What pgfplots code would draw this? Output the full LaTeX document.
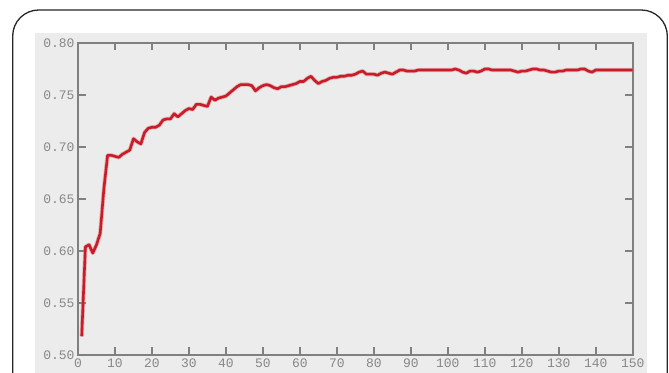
\documentclass[border=0pt]{standalone}
\usepackage{pgfplots}
\pgfplotsset{compat=1.18}
\usepackage{fontspec}
\newfontfamily\tickfont{Liberation Mono}
\definecolor{panelgray}{RGB}{235,236,235}
\definecolor{axgray}{RGB}{128,128,128}
\definecolor{lblgray}{RGB}{135,135,135}
\definecolor{linered}{RGB}{200,28,40}
\begin{document}
\begin{tikzpicture}[x=1pt,y=1pt]
\useasboundingbox (0,0) rectangle (669,372);
\clip (0,0) rectangle (669,372);
\fill[white] (0,0) rectangle (669,372);
\draw[line width=1.3pt, draw=black!85, rounded corners=26pt] (12.7,-40) rectangle (667.3,362);
\fill[panelgray] (35,-10) rectangle (647,338.7);
\begin{axis}[
  at={(78pt,17pt)}, anchor=south west,
  width=554.7pt, height=312pt, scale only axis,
  xmin=0, xmax=150, ymin=0.5, ymax=0.8,
  axis background/.style={fill=panelgray},
  axis line style={draw=axgray, line width=2pt},
  every tick/.style={draw=axgray, line width=2pt},
  major tick length=7.5pt,
  tick align=inside,
  xtick={0,10,20,30,40,50,60,70,80,90,100,110,120,130,140,150},
  ytick={0.5,0.55,0.6,0.65,0.7,0.75,0.8},
  /pgf/number format/assume math mode=true,
  yticklabel style={/pgf/number format/fixed,/pgf/number format/precision=2,/pgf/number format/fixed zerofill, xshift=0pt},
  xticklabel style={/pgf/number format/fixed, yshift=0pt},
  ticklabel style={font=\tickfont\fontsize{13}{13}\selectfont, text=lblgray},
  clip=false,
]
\pgfplotstableread{
x y
1 0.518
2 0.604
3 0.606
4 0.598
5 0.606
6 0.617
7 0.660
8 0.692
9 0.692
10 0.691
11 0.690
12 0.693
13 0.695
14 0.697
15 0.708
16 0.705
17 0.703
18 0.714
19 0.718
20 0.719
21 0.719
22 0.721
23 0.726
24 0.727
25 0.727
26 0.732
27 0.729
28 0.732
29 0.735
30 0.737
31 0.736
32 0.741
33 0.741
34 0.740
35 0.739
36 0.748
37 0.745
38 0.747
39 0.748
40 0.749
41 0.752
42 0.755
43 0.758
44 0.760
45 0.760
46 0.760
47 0.759
48 0.754
49 0.757
50 0.759
51 0.760
52 0.759
53 0.757
54 0.756
55 0.758
56 0.758
57 0.759
58 0.760
59 0.761
60 0.763
61 0.763
62 0.766
63 0.768
64 0.764
65 0.761
66 0.763
67 0.764
68 0.766
69 0.767
70 0.767
71 0.768
72 0.768
73 0.769
74 0.769
75 0.770
76 0.772
77 0.773
78 0.770
79 0.770
80 0.770
81 0.769
82 0.771
83 0.772
84 0.771
85 0.770
86 0.772
87 0.774
88 0.774
89 0.773
90 0.773
91 0.773
92 0.774
93 0.774
94 0.774
95 0.774
96 0.774
97 0.774
98 0.774
99 0.774
100 0.774
101 0.774
102 0.775
103 0.774
104 0.772
105 0.771
106 0.773
107 0.773
108 0.772
109 0.773
110 0.775
111 0.775
112 0.774
113 0.774
114 0.774
115 0.774
116 0.774
117 0.774
118 0.773
119 0.772
120 0.773
121 0.773
122 0.774
123 0.775
124 0.775
125 0.774
126 0.774
127 0.773
128 0.772
129 0.772
130 0.773
131 0.773
132 0.774
133 0.774
134 0.774
135 0.774
136 0.775
137 0.775
138 0.773
139 0.772
140 0.774
141 0.774
142 0.774
143 0.774
144 0.774
145 0.774
146 0.774
147 0.774
148 0.774
149 0.774
150 0.774
}\datatable
\addplot[draw=linered!60, opacity=0.5, line width=4.2pt, line join=round] table[x=x,y=y] {\datatable};
\addplot[draw=linered, line width=2.6pt, line join=round] table[x=x,y=y] {\datatable};
\end{axis}
\end{tikzpicture}
\end{document}
